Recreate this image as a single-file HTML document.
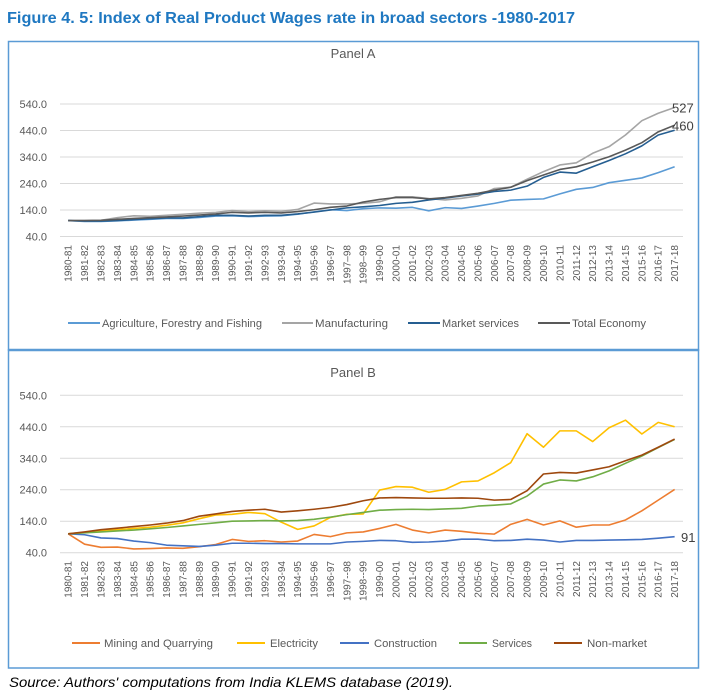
<!DOCTYPE html>
<html><head><meta charset="utf-8">
<style>
html,body{margin:0;padding:0;background:#fff;}
svg{display:block;}
text{font-family:"Liberation Sans",sans-serif;}
</style></head>
<body>
<svg width="707" height="692" viewBox="0 0 707 692" xmlns="http://www.w3.org/2000/svg">
<rect width="707" height="692" fill="#fff"/>
<!-- Title -->
<text x="7" y="23" font-size="16" font-weight="bold" fill="#1F78C1" textLength="568" lengthAdjust="spacingAndGlyphs">Figure 4. 5: Index of Real Product Wages rate in broad sectors -1980-2017</text>

<!-- Panel borders -->
<rect x="8.5" y="41.5" width="690" height="308.5" fill="none" stroke="#5B9BD5" stroke-width="1.5"/>
<rect x="8.5" y="350" width="690" height="318" fill="none" stroke="#5B9BD5" stroke-width="1.5"/>
<line x1="8" y1="350" x2="699" y2="350" stroke="#5B9BD5" stroke-width="2.5"/>

<!-- ===== Panel A ===== -->
<text x="353" y="58" font-size="13" fill="#595959" text-anchor="middle">Panel A</text>
<g stroke="#D9D9D9" stroke-width="1">
<line x1="60" y1="104" x2="683" y2="104"/>
<line x1="60" y1="130.5" x2="683" y2="130.5"/>
<line x1="60" y1="157" x2="683" y2="157"/>
<line x1="60" y1="183.5" x2="683" y2="183.5"/>
<line x1="60" y1="210" x2="683" y2="210"/>
<line x1="60" y1="236.5" x2="683" y2="236.5"/>
</g>
<g font-size="11" fill="#595959" text-anchor="end">
<text x="47" y="108">540.0</text>
<text x="47" y="134.5">440.0</text>
<text x="47" y="161">340.0</text>
<text x="47" y="187.5">240.0</text>
<text x="47" y="214">140.0</text>
<text x="47" y="240.5">40.0</text>
</g>
<g font-size="10" fill="#595959" text-anchor="end">
<text transform="translate(71.7,245) rotate(-90)">1980-81</text>
<text transform="translate(88.1,245) rotate(-90)">1981-82</text>
<text transform="translate(104.5,245) rotate(-90)">1982-83</text>
<text transform="translate(120.9,245) rotate(-90)">1983-84</text>
<text transform="translate(137.3,245) rotate(-90)">1984-85</text>
<text transform="translate(153.7,245) rotate(-90)">1985-86</text>
<text transform="translate(170.0,245) rotate(-90)">1986-87</text>
<text transform="translate(186.4,245) rotate(-90)">1987-88</text>
<text transform="translate(202.8,245) rotate(-90)">1988-89</text>
<text transform="translate(219.2,245) rotate(-90)">1989-90</text>
<text transform="translate(235.6,245) rotate(-90)">1990-91</text>
<text transform="translate(252.0,245) rotate(-90)">1991-92</text>
<text transform="translate(268.4,245) rotate(-90)">1992-93</text>
<text transform="translate(284.8,245) rotate(-90)">1993-94</text>
<text transform="translate(301.2,245) rotate(-90)">1994-95</text>
<text transform="translate(317.6,245) rotate(-90)">1995-96</text>
<text transform="translate(333.9,245) rotate(-90)">1996-97</text>
<text transform="translate(350.3,245) rotate(-90)">1997–98</text>
<text transform="translate(366.7,245) rotate(-90)">1998–99</text>
<text transform="translate(383.1,245) rotate(-90)">1999-00</text>
<text transform="translate(399.5,245) rotate(-90)">2000-01</text>
<text transform="translate(415.9,245) rotate(-90)">2001-02</text>
<text transform="translate(432.3,245) rotate(-90)">2002-03</text>
<text transform="translate(448.7,245) rotate(-90)">2003-04</text>
<text transform="translate(465.1,245) rotate(-90)">2004-05</text>
<text transform="translate(481.5,245) rotate(-90)">2005-06</text>
<text transform="translate(497.8,245) rotate(-90)">2006-07</text>
<text transform="translate(514.2,245) rotate(-90)">2007-08</text>
<text transform="translate(530.6,245) rotate(-90)">2008-09</text>
<text transform="translate(547.0,245) rotate(-90)">2009-10</text>
<text transform="translate(563.4,245) rotate(-90)">2010-11</text>
<text transform="translate(579.8,245) rotate(-90)">2011-12</text>
<text transform="translate(596.2,245) rotate(-90)">2012-13</text>
<text transform="translate(612.6,245) rotate(-90)">2013-14</text>
<text transform="translate(629.0,245) rotate(-90)">2014-15</text>
<text transform="translate(645.4,245) rotate(-90)">2015-16</text>
<text transform="translate(661.7,245) rotate(-90)">2016-17</text>
<text transform="translate(678.1,245) rotate(-90)">2017-18</text>
</g>
<g transform="translate(68.2,247.1) scale(16.39,-0.265)" fill="none" stroke-width="1.6" stroke-linejoin="round">
<polyline vector-effect="non-scaling-stroke" stroke="#5B9BD5" points="0,100 1,97 2,97 3,99 4,102 5,105 6,108 7,108 8,112 9,117 10,118 11,115 12,117 13,118 14,124 15,133 16,141 17,138 18,145 19,148 20,147 21,150 22,137 23,149 24,146 25,155 26,165 27,177 28,180 29,182 30,201 31,218 32,225 33,243 34,252 35,261 36,281 37,303"/>
<polyline vector-effect="non-scaling-stroke" stroke="#A5A5A5" points="0,100 1,100 2,101 3,111 4,118 5,116 6,120 7,124 8,128 9,131 10,138 11,134 12,137 13,135 14,142 15,166 16,163 17,163 18,165 19,171 20,190 21,190 22,183 23,178 24,184 25,193 26,221 27,226 28,256 29,285 30,310 31,318 32,354 33,379 34,423 35,477 36,505 37,527"/>
<polyline vector-effect="non-scaling-stroke" stroke="#255E91" points="0,100 1,98 2,98 3,100 4,104 5,107 6,110 7,110 8,115 9,120 10,120 11,117 12,120 13,120 14,125 15,132 16,140 17,148 18,152 19,157 20,165 21,169 22,178 23,185 24,193 25,200 26,210 27,215 28,230 29,263 30,283 31,279 32,303 33,327 34,352 35,382 36,423 37,441"/>
<polyline vector-effect="non-scaling-stroke" stroke="#595959" points="0,100 1,100 2,101 3,105 4,108 5,111 6,114 7,117 8,121 9,125 10,131 11,129 12,131 13,129 14,134 15,141 16,150 17,155 18,170 19,180 20,187 21,187 22,182 23,187 24,195 25,203 26,215 27,226 28,251 29,272 30,293 31,303 32,321 33,341 34,366 35,394 36,435 37,460"/>
</g>
<g font-size="13" fill="#404040">
<text x="672" y="112.5">527</text>
<text x="672" y="130.5">460</text>
</g>
<!-- Legend A -->
<g stroke-width="2">
<line x1="68" y1="323" x2="100" y2="323" stroke="#5B9BD5"/>
<line x1="282" y1="323" x2="313" y2="323" stroke="#A5A5A5"/>
<line x1="408" y1="323" x2="440" y2="323" stroke="#255E91"/>
<line x1="538" y1="323" x2="570" y2="323" stroke="#595959"/>
</g>
<g font-size="11" fill="#595959">
<text x="102" y="327" textLength="160" lengthAdjust="spacingAndGlyphs">Agriculture, Forestry and Fishing</text>
<text x="315" y="327" textLength="73" lengthAdjust="spacingAndGlyphs">Manufacturing</text>
<text x="442" y="327" textLength="77" lengthAdjust="spacingAndGlyphs">Market services</text>
<text x="572" y="327" textLength="74" lengthAdjust="spacingAndGlyphs">Total Economy</text>
</g>

<!-- ===== Panel B ===== -->
<text x="353" y="377" font-size="13" fill="#595959" text-anchor="middle">Panel B</text>
<g stroke="#D9D9D9" stroke-width="1">
<line x1="60" y1="395.3" x2="683" y2="395.3"/>
<line x1="60" y1="426.8" x2="683" y2="426.8"/>
<line x1="60" y1="458.3" x2="683" y2="458.3"/>
<line x1="60" y1="489.7" x2="683" y2="489.7"/>
<line x1="60" y1="521.2" x2="683" y2="521.2"/>
<line x1="60" y1="552.7" x2="683" y2="552.7"/>
</g>
<g font-size="11" fill="#595959" text-anchor="end">
<text x="47" y="399.3">540.0</text>
<text x="47" y="430.8">440.0</text>
<text x="47" y="462.3">340.0</text>
<text x="47" y="493.7">240.0</text>
<text x="47" y="525.2">140.0</text>
<text x="47" y="556.7">40.0</text>
</g>
<g font-size="10" fill="#595959" text-anchor="end">
<text transform="translate(71.7,561) rotate(-90)">1980-81</text>
<text transform="translate(88.1,561) rotate(-90)">1981-82</text>
<text transform="translate(104.5,561) rotate(-90)">1982-83</text>
<text transform="translate(120.9,561) rotate(-90)">1983-84</text>
<text transform="translate(137.3,561) rotate(-90)">1984-85</text>
<text transform="translate(153.7,561) rotate(-90)">1985-86</text>
<text transform="translate(170.0,561) rotate(-90)">1986-87</text>
<text transform="translate(186.4,561) rotate(-90)">1987-88</text>
<text transform="translate(202.8,561) rotate(-90)">1988-89</text>
<text transform="translate(219.2,561) rotate(-90)">1989-90</text>
<text transform="translate(235.6,561) rotate(-90)">1990-91</text>
<text transform="translate(252.0,561) rotate(-90)">1991-92</text>
<text transform="translate(268.4,561) rotate(-90)">1992-93</text>
<text transform="translate(284.8,561) rotate(-90)">1993-94</text>
<text transform="translate(301.2,561) rotate(-90)">1994-95</text>
<text transform="translate(317.6,561) rotate(-90)">1995-96</text>
<text transform="translate(333.9,561) rotate(-90)">1996-97</text>
<text transform="translate(350.3,561) rotate(-90)">1997--98</text>
<text transform="translate(366.7,561) rotate(-90)">1998--99</text>
<text transform="translate(383.1,561) rotate(-90)">1999-00</text>
<text transform="translate(399.5,561) rotate(-90)">2000-01</text>
<text transform="translate(415.9,561) rotate(-90)">2001-02</text>
<text transform="translate(432.3,561) rotate(-90)">2002-03</text>
<text transform="translate(448.7,561) rotate(-90)">2003-04</text>
<text transform="translate(465.1,561) rotate(-90)">2004-05</text>
<text transform="translate(481.5,561) rotate(-90)">2005-06</text>
<text transform="translate(497.8,561) rotate(-90)">2006-07</text>
<text transform="translate(514.2,561) rotate(-90)">2007-08</text>
<text transform="translate(530.6,561) rotate(-90)">2008-09</text>
<text transform="translate(547.0,561) rotate(-90)">2009-10</text>
<text transform="translate(563.4,561) rotate(-90)">2010-11</text>
<text transform="translate(579.8,561) rotate(-90)">2011-12</text>
<text transform="translate(596.2,561) rotate(-90)">2012-13</text>
<text transform="translate(612.6,561) rotate(-90)">2013-14</text>
<text transform="translate(629.0,561) rotate(-90)">2014-15</text>
<text transform="translate(645.4,561) rotate(-90)">2015-16</text>
<text transform="translate(661.7,561) rotate(-90)">2016-17</text>
<text transform="translate(678.1,561) rotate(-90)">2017-18</text>
</g>
<g transform="translate(68.2,565.29) scale(16.39,-0.3148)" fill="none" stroke-width="1.6" stroke-linejoin="round">
<polyline vector-effect="non-scaling-stroke" stroke="#ED7D31" points="0,100 1,67 2,57 3,58 4,52 5,53 6,55 7,54 8,59 9,66 10,82 11,76 12,78 13,74 14,77 15,98 16,91 17,103 18,106 19,117 20,130 21,112 22,103 23,112 24,108 25,102 26,99 27,130 28,146 29,128 30,141 31,121 32,128 33,128 34,144 35,173 36,207 37,241"/>
<polyline vector-effect="non-scaling-stroke" stroke="#FFC000" points="0,100 1,105 2,110 3,113 4,117 5,121 6,127 7,135 8,148 9,160 10,162 11,168 12,164 13,137 14,114 15,125 16,152 17,162 18,163 19,239 20,250 21,248 22,232 23,241 24,265 25,268 26,294 27,326 28,418 29,375 30,427 31,427 32,393 33,437 34,461 35,417 36,454 37,440"/>
<polyline vector-effect="non-scaling-stroke" stroke="#4472C4" points="0,100 1,97 2,87 3,85 4,77 5,72 6,64 7,62 8,60 9,64 10,70 11,70 12,69 13,69 14,68 15,68 16,68 17,74 18,76 19,79 20,78 21,73 22,74 23,77 24,83 25,83 26,78 27,79 28,83 29,80 30,74 31,79 32,79 33,80 34,81 35,82 36,86 37,91"/>
<polyline vector-effect="non-scaling-stroke" stroke="#70AD47" points="0,100 1,103 2,106 3,109 4,112 5,116 6,120 7,125 8,130 9,135 10,140 11,141 12,142 13,141 14,142 15,146 16,153 17,161 18,168 19,175 20,177 21,178 22,177 23,179 24,181 25,188 26,191 27,195 28,220 29,258 30,271 31,268 32,281 33,300 34,324 35,347 36,374 37,400"/>
<polyline vector-effect="non-scaling-stroke" stroke="#9E480E" points="0,100 1,106 2,113 3,118 4,123 5,128 6,134 7,142 8,156 9,163 10,171 11,175 12,178 13,169 14,173 15,178 16,184 17,193 18,205 19,214 20,215 21,214 22,213 23,213 24,214 25,213 26,207 27,209 28,237 29,290 30,295 31,293 32,303 33,313 34,332 35,350 36,375 37,401"/>
</g>
<text x="681" y="542" font-size="13" fill="#404040">91</text>
<!-- Legend B -->
<g stroke-width="2">
<line x1="72" y1="643" x2="100" y2="643" stroke="#ED7D31"/>
<line x1="237" y1="643" x2="265" y2="643" stroke="#FFC000"/>
<line x1="340" y1="643" x2="369" y2="643" stroke="#4472C4"/>
<line x1="459" y1="643" x2="487" y2="643" stroke="#70AD47"/>
<line x1="554" y1="643" x2="582" y2="643" stroke="#9E480E"/>
</g>
<g font-size="11" fill="#595959">
<text x="104" y="647" textLength="109" lengthAdjust="spacingAndGlyphs">Mining and Quarrying</text>
<text x="270" y="647" textLength="48" lengthAdjust="spacingAndGlyphs">Electricity</text>
<text x="374" y="647" textLength="63" lengthAdjust="spacingAndGlyphs">Construction</text>
<text x="492" y="647" textLength="40" lengthAdjust="spacingAndGlyphs">Services</text>
<text x="587" y="647" textLength="60" lengthAdjust="spacingAndGlyphs">Non-market</text>
</g>

<!-- Source -->
<text x="9" y="687" font-size="14" font-style="italic" fill="#000" textLength="444" lengthAdjust="spacingAndGlyphs">Source: Authors' computations from India KLEMS database (2019).</text>
</svg>
</body></html>
